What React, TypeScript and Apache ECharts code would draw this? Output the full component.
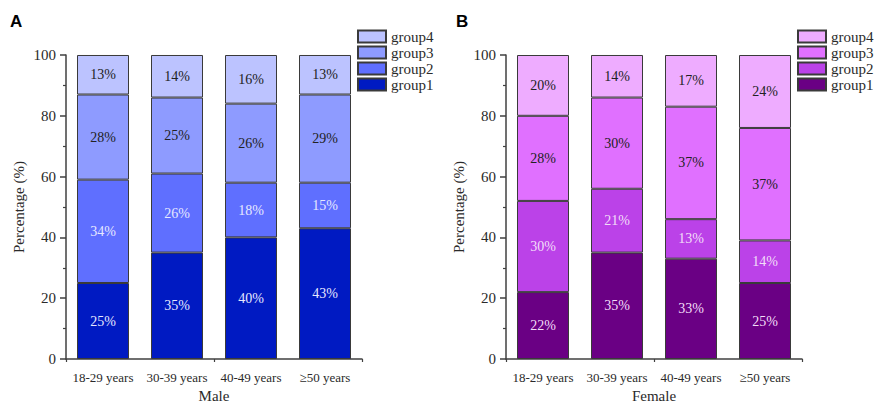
import React, { useEffect, useRef } from 'react';
import * as echarts from 'echarts';

const categories = ['18-29 years', '30-39 years', '40-49 years', '≥50 years'];
const groupNames = ['group1', 'group2', 'group3', 'group4'];
const legendOrder = ['group4', 'group3', 'group2', 'group1'];

const maleGroup1 = [25, 35, 40, 43];
const maleGroup2 = [34, 26, 18, 15];
const maleGroup3 = [28, 25, 26, 29];
const maleGroup4 = [13, 14, 16, 13];

const femaleGroup1 = [22, 35, 33, 25];
const femaleGroup2 = [30, 21, 13, 14];
const femaleGroup3 = [28, 30, 37, 37];
const femaleGroup4 = [20, 14, 17, 24];

const yTicks = [0, 20, 40, 60, 80, 100];

const maleColors = ['#001AC2', '#5F6FFF', '#8E9BFF', '#BCC3FF'];
const femaleColors = ['#6A0084', '#BB42E8', '#E070FF', '#EEACFF'];
const maleLabelColors = ['#E6E8FF', '#E6E8FF', '#222222', '#222222'];
const femaleLabelColors = ['#F2DDF8', '#F2DDF8', '#222222', '#222222'];

const FONT = '"Liberation Serif", "DejaVu Serif", serif';
const AXIS_COLOR = '#404040';
const TEXT_COLOR = '#2a2a2a';

export default function App() {
  const ref = useRef<HTMLDivElement>(null);

  useEffect(() => {
    document.body.style.margin = '0';
    if (!ref.current) return;
    const chart = echarts.init(ref.current, undefined, { renderer: 'svg' });

    const panels = [
      { prefix: '', title: 'Male', left: 66, data: [maleGroup1, maleGroup2, maleGroup3, maleGroup4], colors: maleColors, labelColors: maleLabelColors },
      { prefix: 'F:', title: 'Female', left: 506, data: [femaleGroup1, femaleGroup2, femaleGroup3, femaleGroup4], colors: femaleColors, labelColors: femaleLabelColors },
    ];

    const grids: any[] = [];
    const xAxes: any[] = [];
    const yAxes: any[] = [];
    const series: any[] = [];
    const legends: any[] = [];

    panels.forEach((p, pi) => {
      grids.push({ left: p.left, top: 55, width: 296, height: 304, containLabel: false, outerBoundsMode: 'none' });
      xAxes.push({
        type: 'category',
        gridIndex: pi,
        data: categories,
        name: p.title,
        nameLocation: 'middle',
        nameGap: 27,
        nameTextStyle: { fontFamily: FONT, fontSize: 15, color: TEXT_COLOR, lineHeight: 15 },
        axisLine: { lineStyle: { color: AXIS_COLOR, width: 1.5 } },
        axisTick: { alignWithLabel: true, length: 6, lineStyle: { color: AXIS_COLOR, width: 1.5 } },
        axisLabel: { interval: 0, fontFamily: FONT, fontSize: 13, color: TEXT_COLOR, margin: 12 },
      });
      xAxes.push({
        type: 'category',
        gridIndex: pi,
        data: categories,
        position: 'bottom',
        axisLine: { show: false },
        axisTick: { show: true, length: 3, lineStyle: { color: AXIS_COLOR, width: 1.2 } },
        axisLabel: { show: false },
      });
      yAxes.push({
        type: 'value',
        gridIndex: pi,
        min: 0,
        max: 100,
        interval: 20,
        name: 'Percentage (%)',
        nameLocation: 'middle',
        nameGap: 40,
        nameTextStyle: { fontFamily: FONT, fontSize: 15, color: TEXT_COLOR },
        axisLine: { show: true, lineStyle: { color: AXIS_COLOR, width: 1.5 } },
        axisTick: { show: true, length: 6, lineStyle: { color: AXIS_COLOR, width: 1.5 } },
        minorTick: { show: true, splitNumber: 2, length: 3, lineStyle: { color: AXIS_COLOR, width: 1.2 } },
        splitLine: { show: false },
        axisLabel: {
          fontFamily: FONT, fontSize: 15, color: TEXT_COLOR, margin: 10,
          formatter: (v: number) => (yTicks.includes(v) ? String(v) : ''),
        },
      });
      p.data.forEach((vals, gi) => {
        series.push({
          type: 'bar',
          name: p.prefix + groupNames[gi],
          xAxisIndex: pi * 2,
          yAxisIndex: pi,
          stack: 'total' + pi,
          barWidth: 52,
          data: vals,
          itemStyle: { color: p.colors[gi], borderColor: '#3a3a3a', borderWidth: 1 },
          label: {
            show: true,
            position: 'inside',
            formatter: '{c}%',
            fontFamily: FONT,
            fontSize: 14,
            color: p.labelColors[gi],
          },
        });
      });
      legends.push({
        orient: 'vertical',
        left: p.left + 291,
        top: 29,
        padding: 0,
        itemWidth: 28,
        itemHeight: 12,
        itemGap: 1,
        icon: 'rect',
        data: legendOrder.map((n) => p.prefix + n),
        formatter: (name: string) => name.replace('F:', ''),
        textStyle: { fontFamily: FONT, fontSize: 15, color: TEXT_COLOR, lineHeight: 12 },
        selectedMode: false,
      });
    });

    chart.setOption({
      animation: false,
      backgroundColor: '#ffffff',
      grid: grids,
      xAxis: xAxes,
      yAxis: yAxes,
      legend: legends,
      series,
      graphic: [
        { type: 'text', left: 10, top: 13, style: { text: 'A', fontFamily: '"Liberation Sans", Arial, sans-serif', fontWeight: 'bold', fontSize: 17, fill: '#000' } },
        { type: 'text', left: 456, top: 13, style: { text: 'B', fontFamily: '"Liberation Sans", Arial, sans-serif', fontWeight: 'bold', fontSize: 17, fill: '#000' } },
      ],
    });

    return () => chart.dispose();
  }, []);

  return <div ref={ref} style={{ width: 877, height: 403 }} />;
}
